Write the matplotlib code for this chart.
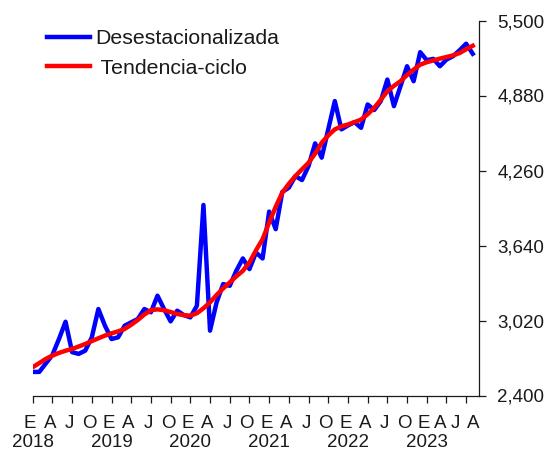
import matplotlib
matplotlib.use('Agg')
import matplotlib.pyplot as plt
from matplotlib.ticker import FuncFormatter

plt.rcParams['font.family'] = ['Liberation Sans', 'DejaVu Sans']

# Series mensual, enero 2018 - agosto 2023
desestacionalizada = [
    2595, 2595, 2665, 2735, 2867, 3010, 2758, 2744, 2771, 2881, 3115, 2977,   # 2018
    2867, 2881, 2977, 3005, 3032, 3115, 3088, 3225, 3115, 3013, 3101, 3065,   # 2019
    3046, 3142, 3975, 2936, 3170, 3321, 3307, 3431, 3533, 3445, 3582, 3533,   # 2020
    3920, 3775, 4082, 4118, 4214, 4181, 4297, 4484, 4366, 4600, 4834, 4600,   # 2021
    4632, 4660, 4613, 4806, 4760, 4834, 5012, 4792, 4957, 5122, 4998, 5238,   # 2022
    5172, 5183, 5122, 5177, 5205, 5254, 5308, 5225,                           # 2023
]
tendencia_ciclo = [
    2634, 2668, 2703, 2730, 2752, 2770, 2785, 2805, 2826, 2850, 2873, 2895,
    2914, 2930, 2950, 2985, 3024, 3070, 3105, 3112, 3105, 3090, 3074, 3064,
    3060, 3080, 3121, 3170, 3231, 3285, 3335, 3385, 3431, 3500, 3600, 3692,
    3830, 3960, 4077, 4150, 4214, 4270, 4324, 4400, 4489, 4550, 4600, 4625,
    4640, 4660, 4681, 4725, 4778, 4845, 4915, 4960, 4998, 5050, 5094, 5135,
    5155, 5170, 5185, 5198, 5212, 5231, 5262, 5291,
]
meses = list(range(len(desestacionalizada)))

etiquetas_mes = ['E', 'A', 'J', 'O'] * 5 + ['E', 'A', 'J', 'A']
pos_mes = [i * 3 - 0.4 for i in range(21)] + [62.0, 64.3, 67.0]
anios = ['2018', '2019', '2020', '2021', '2022', '2023']
pos_anio = [0, 12, 24, 36, 48, 60]
y_ticks = [2400, 3020, 3640, 4260, 4880, 5500]

fig = plt.figure(figsize=(5.52, 4.54), dpi=100)
ax = fig.add_axes([32.7 / 552, 1 - 395.5 / 454, 446.6 / 552, 375 / 454])

ax.plot(meses, desestacionalizada, color='#0000FF', lw=3.2, label='Desestacionalizada',
        solid_joinstyle='round', zorder=2)
ax.plot(meses, tendencia_ciclo, color='#FF0000', lw=3.2, label=' Tendencia-ciclo',
        solid_joinstyle='round', zorder=3)

ax.set_xlim(0, 68)
ax.set_ylim(2400, 5500)

for s in ['left', 'top']:
    ax.spines[s].set_visible(False)
for s in ['right', 'bottom']:
    ax.spines[s].set_color('#1a1a1a')
    ax.spines[s].set_linewidth(0.9)

ax.yaxis.tick_right()
ax.set_yticks(y_ticks)
ax.yaxis.set_major_formatter(FuncFormatter(lambda v, p: f'{v:,.0f}'))
ax.tick_params(axis='y', direction='out', length=5, width=0.9, pad=8,
               labelsize=13.5, colors='#1a1a1a')

ax.set_xticks(list(range(0, 67, 3)))
ax.set_xticklabels([])
ax.tick_params(axis='x', direction='out', length=5, width=0.9, colors='#1a1a1a')

tr = ax.get_xaxis_transform()
for p, t in zip(pos_mes, etiquetas_mes):
    ax.annotate(t, (p, 0), xycoords=tr, xytext=(0, -19.8), textcoords='offset points',
                ha='center', va='center', fontsize=13.5, color='#1a1a1a')
for p, t in zip(pos_anio, anios):
    ax.annotate(t, (p, 0), xycoords=tr, xytext=(0, -34), textcoords='offset points',
                ha='center', va='center', fontsize=13.5, color='#1a1a1a')

ax.legend(loc='upper left', bbox_to_anchor=(47 / 552, 1 - 29 / 454),
          bbox_transform=fig.transFigure, frameon=False, borderpad=0,
          borderaxespad=0, handlelength=2.0, handletextpad=0.25,
          labelspacing=0.5, fontsize=15.3, labelcolor='#1a1a1a')

fig.savefig('out.png', dpi=100)
